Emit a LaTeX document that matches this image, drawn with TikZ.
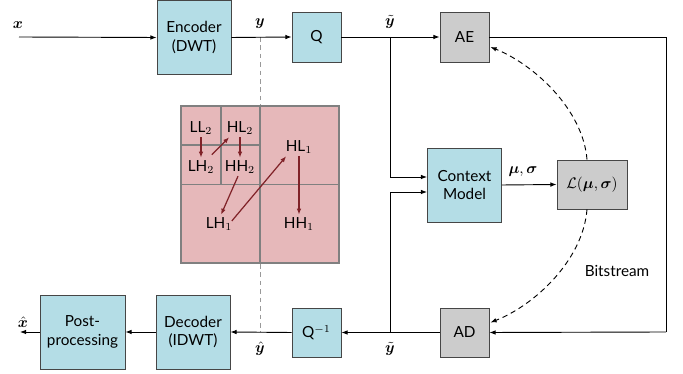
\documentclass[tikz,border=0pt]{standalone}
\usepackage{amsmath}
\usepackage{bm}
\usepackage{fontspec}
\setmainfont{Lato}
\usetikzlibrary{arrows.meta,calc}
\definecolor{boxblue}{RGB}{180,221,230}
\definecolor{boxgray}{RGB}{204,204,204}
\definecolor{boxline}{RGB}{70,70,70}
\definecolor{bandpink}{RGB}{230,184,186}
\definecolor{bandline}{RGB}{128,128,128}
\definecolor{bandarrow}{RGB}{128,34,40}
\newcommand{\pxu}{0.654pt}
\tikzset{
  blk/.style={draw=boxline, fill=boxblue, line width=0.6pt, align=center, inner sep=0pt},
  gblk/.style={blk, fill=boxgray},
  sz/.style 2 args={minimum width=#1*\pxu, minimum height=#2*\pxu},
  arr/.style={-{Latex[length=4pt,width=3pt]}, line width=0.6pt},
  dasharr/.style={arr, dash pattern=on 3.5pt off 2.5pt},
  guide/.style={draw=bandline!80, line width=0.6pt, dash pattern=on 3pt off 2.5pt},
  lbl/.style={inner sep=1pt},
  band/.style={inner sep=1.5pt},
  rarr/.style={-{Latex[length=4pt,width=3pt]}, draw=bandarrow, line width=0.8pt},
}
\begin{document}
\begin{tikzpicture}[x=\pxu, y=-\pxu]
\useasboundingbox (0,0) rectangle (683,374);

% blocks
\node[blk, sz={74}{74}] (enc) at (194,37.5) {Encoder\\(DWT)};
\node[blk, sz={49}{50}] (q) at (316.5,37) {Q};
\node[gblk, sz={49}{50}] (ae) at (464.5,37) {AE};
\node[blk, sz={74}{74}] (cm) at (464.5,185) {Context\\Model};
\node[gblk, sz={70}{49}] (lk) at (592,184.5) {$\mathcal{L}(\bm{\mu},\bm{\sigma})$};
\node[gblk, sz={49}{49}] (ad) at (464.5,332.5) {AD};
\node[blk, sz={49}{49}] (qi) at (316.5,332.5) {Q$^{-1}$};
\node[blk, sz={74}{74}] (dec) at (193,332) {Decoder\\(IDWT)};
\node[blk, sz={85}{74}] (pp) at (82.5,332) {Post-\\processing};

% helper coordinates
\coordinate (xin) at (19,37);
\coordinate (xout) at (20,332);
\coordinate (j1) at (390,37);
\coordinate (j2) at (390,332);
\coordinate (rt) at (666,37);
\coordinate (rb) at (666,332);
\coordinate (ys) at (260,37);
\coordinate (ye) at (260,332);

% dashed guide line (behind subbands)
\draw[guide] (ys) -- (ye);

% subband decomposition
\fill[bandpink] (181,106) rectangle (339,263);
\draw[bandline, line width=0.8pt] (181,106) rectangle (339,263);
\draw[bandline, line width=0.8pt] (260,106) -- (260,263);
\draw[bandline, line width=0.8pt] (181,184.5) -- (339,184.5);
\draw[bandline, line width=0.8pt] (221,106) -- (221,184.5);
\draw[bandline, line width=0.8pt] (181,145) -- (260,145);

\node[band] (ll2) at (201,128) {LL$_2$};
\node[band] (hl2) at (240,128) {HL$_2$};
\node[band] (lh2) at (201,167) {LH$_2$};
\node[band] (hh2) at (240,167) {HH$_2$};
\node[band] (hl1) at (299,147) {HL$_1$};
\node[band] (lh1) at (219,224) {LH$_1$};
\node[band] (hh1) at (299,224) {HH$_1$};

\draw[rarr] (ll2.south) -- (lh2.north);
\draw[rarr] ($(lh2.north east)+(-5,-3)$) -- ($(hl2.south west)+(5,0)$);
\draw[rarr] (hl2.south) -- (hh2.north);
\draw[rarr] ($(hh2.south)+(-2,0)$) -- ($(lh1.north)+(2,0)$);
\draw[rarr] ($(lh1.east)+(-3,-3)$) -- ($(hl1.south west)+(3,0)$);
\draw[rarr] (hl1.south) -- (hh1.north);

% main connectors
\draw[arr] (xin) -- (enc.west);
\draw[arr] (enc.east) -- (q.west);
\draw[arr] (q.east) -- (ae.west);
\draw[line width=0.6pt] (ae.east) -- (rt) -- (rb);
\draw[arr] (rb) -- (ad.east);
\draw[arr] (ad.west) -- (qi.east);
\draw[arr] (qi.west) -- (dec.east);
\draw[arr] (dec.west) -- (pp.east);
\draw[arr] (pp.west) -- (xout);
\draw[arr] (j1) |- ($(cm.west)+(0,-8)$);
\draw[arr] (j2) |- ($(cm.west)+(0,7)$);
\draw[arr] (cm.east) -- (lk.west);

% dashed bitstream curves
\draw[dasharr] ($(lk.north)+(-5,0)$) .. controls (583,110) and (535,65) .. ($(ae.east)+(1,10)$);
\draw[dasharr] ($(lk.south)+(-5,0)$) .. controls (583,260) and (535,305) .. ($(ad.east)+(1,-10)$);

% labels
\node[lbl] (lx) at (18,25) {$\bm{x}$};
\node[lbl] (ly) at (260,24) {$\bm{y}$};
\node[lbl] (lyt) at (390,22) {$\tilde{\bm{y}}$};
\node[lbl] (lyt2) at (390,349) {$\tilde{\bm{y}}$};
\node[lbl] (lyh) at (260,349) {$\hat{\bm{y}}$};
\node[lbl] (lxh) at (23,322) {$\hat{\bm{x}}$};
\node[lbl] (lms) at (523,172) {$\bm{\mu},\bm{\sigma}$};
\node[lbl] (lbs) at (617,271) {Bitstream};
\end{tikzpicture}
\end{document}
